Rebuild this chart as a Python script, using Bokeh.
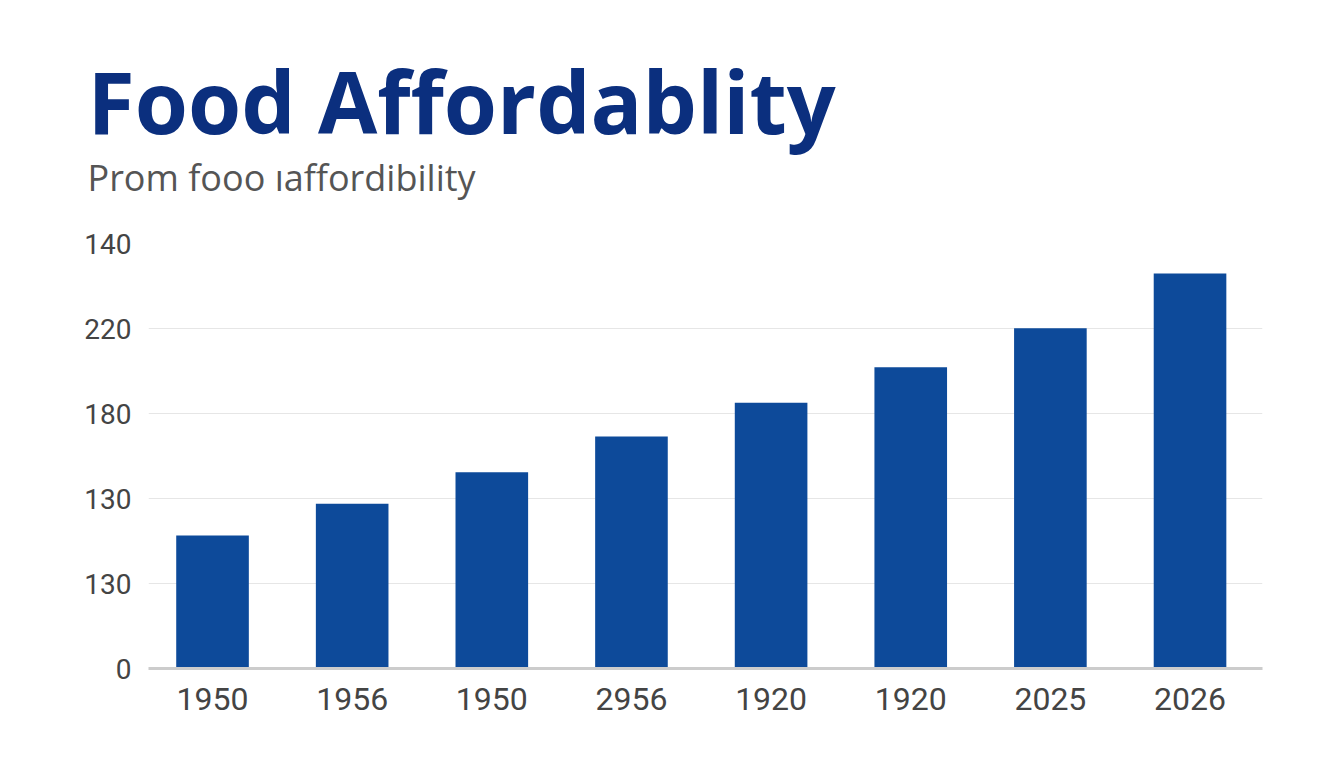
from bokeh.plotting import figure
from bokeh.models import Title, Range1d, FixedTicker
from bokeh.embed import file_html
from bokeh.resources import INLINE

# ---- data ----
title_text = "Food Affordablity"
subtitle_text = "Prom fooo ıaffordibility"
x_labels = ["1950", "1956", "1950", "2956", "1920", "1920", "2025", "2026"]
bar_values = [78.2, 96.9, 115.5, 136.5, 156.3, 177.2, 200.2, 232.4]
y_tick_values = [0, 50, 100, 150, 200, 250]
y_tick_labels = ["0", "130", "130", "180", "220", "140"]

x_pos = list(range(len(x_labels)))

BAR = "#0d4a9a"
TITLE = "#0b2f7e"

p = figure(width=1336, height=760, output_backend="svg", toolbar_location=None,
           x_range=Range1d(-0.4585, 7.519), y_range=Range1d(0, 250),
           min_border_left=148, min_border_right=74, min_border_top=243,
           min_border_bottom=92, title=None)
p.outline_line_color = None
p.background_fill_color = "white"
p.border_fill_color = "white"

# stacked from the frame upwards: spacer, subtitle, title
spacer = Title(text=" ", text_font_size="1px", standoff=39, text_color="white")
sub = Title(text=subtitle_text, align="left", offset=-61, text_font="Open Sans",
            text_font_style="normal", text_font_size="36px", text_color="#555555",
            standoff=0)
main = Title(text=title_text, align="left", offset=-61, text_font="Open Sans",
             text_font_style="bold", text_font_size="86px", text_color=TITLE,
             standoff=-16)
p.add_layout(spacer, "above")
p.add_layout(sub, "above")
p.add_layout(main, "above")

p.vbar(x=x_pos, top=bar_values, width=0.52, bottom=0, color=BAR, line_color=None)

# y axis
p.yaxis.ticker = FixedTicker(ticks=y_tick_values)
p.yaxis.major_label_overrides = {v: l for v, l in zip(y_tick_values, y_tick_labels)}
p.yaxis.axis_line_color = None
p.yaxis.major_tick_line_color = None
p.yaxis.minor_tick_line_color = None
p.yaxis.major_tick_out = 0
p.yaxis.major_label_standoff = 17
p.yaxis.major_label_text_font = "Roboto"
p.yaxis.major_label_text_font_size = "28px"
p.yaxis.major_label_text_color = "#444444"

# x axis
p.xaxis.ticker = FixedTicker(ticks=x_pos)
p.xaxis.major_label_overrides = {i: l for i, l in zip(x_pos, x_labels)}
p.xaxis.axis_line_color = "#cccccc"
p.xaxis.axis_line_width = 3
p.xaxis.major_tick_line_color = None
p.xaxis.minor_tick_line_color = None
p.xaxis.major_tick_out = 0
p.xaxis.major_label_standoff = 19
p.xaxis.major_label_text_font = "Roboto"
p.xaxis.major_label_text_font_size = "32px"
p.xaxis.major_label_text_color = "#444444"

p.xgrid.grid_line_color = None
p.ygrid.grid_line_color = "#e6e6e6"
p.ygrid.grid_line_width = 1

open("out.html", "w").write(file_html(p, INLINE))
